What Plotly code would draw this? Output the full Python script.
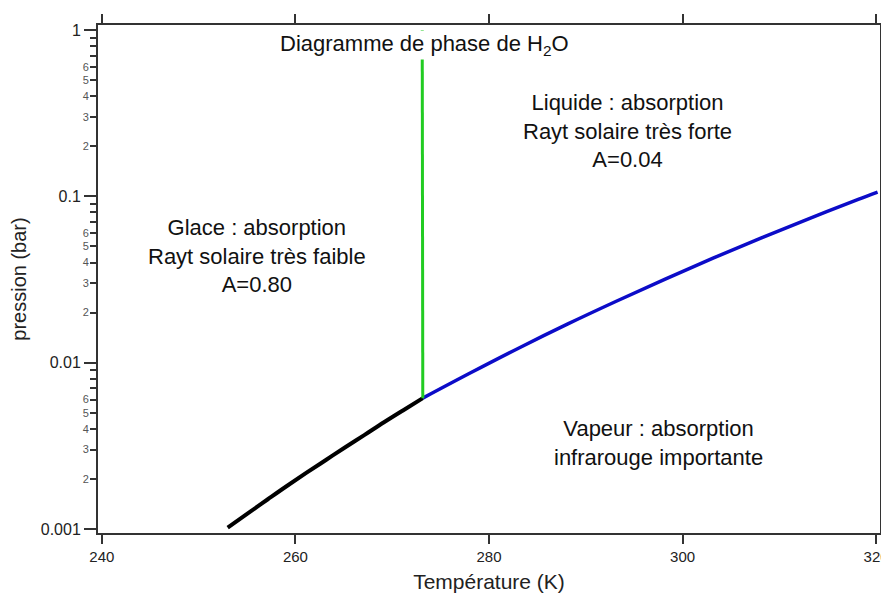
import plotly.graph_objects as go

# sublimation curve (ice / vapour)
t_ice = [253.0, 255.15, 257.15, 259.15, 261.15, 263.15, 265.15, 267.15, 269.15, 271.15, 273.16]
p_ice = [0.00102, 0.00125, 0.00151, 0.00182, 0.00218, 0.00260, 0.00310, 0.00368, 0.00438, 0.00518, 0.00612]

# vaporisation curve (liquid / vapour)
t_liq = [273.16, 278.15, 283.15, 288.15, 293.15, 298.15, 303.15, 308.15, 313.15, 318.15, 320.15]
p_liq = [0.00612, 0.00872, 0.0123, 0.0171, 0.0234, 0.0317, 0.0425, 0.0563, 0.0738, 0.0959, 0.106]

# fusion line (ice / liquid)
t_fus = [273.16, 273.1]
p_fus = [0.00612, 1.0]

x_ticks = [240, 260, 280, 300, 320]
y_major = [0.001, 0.01, 0.1, 1]
y_major_text = ["0.001", "0.01", "0.1", "1"]
y_minor_digits = [2, 3, 4, 5, 6]
y_all_minor = [2, 3, 4, 5, 6, 7, 8, 9]

minor_lab_vals = [d * dec for dec in [0.001, 0.01, 0.1] for d in y_minor_digits]
minor_lab_text = [str(d) for dec in [0.001, 0.01, 0.1] for d in y_minor_digits]
minor_tick_vals = [d * dec for dec in [0.001, 0.01, 0.1] for d in y_all_minor]

FONT = "Liberation Sans, Arial, sans-serif"
AXIS = "#333333"
TXT = 22

fig = go.Figure()

fig.add_trace(go.Scatter(x=t_ice, y=p_ice, mode="lines", line_shape="spline",
                         line={"color": "black", "width": 4}, showlegend=False))
fig.add_trace(go.Scatter(x=t_liq, y=p_liq, mode="lines", line_shape="spline",
                         line={"color": "#0c0cc8", "width": 3.5}, showlegend=False))
fig.add_trace(go.Scatter(x=t_fus, y=p_fus, mode="lines",
                         line={"color": "#22cc22", "width": 3}, showlegend=False))
# invisible trace so the secondary (minor label) axis gets drawn
fig.add_trace(go.Scatter(x=t_ice, y=p_ice, mode="lines", yaxis="y2",
                         line={"color": "rgba(0,0,0,0)", "width": 0},
                         hoverinfo="skip", showlegend=False))

# the page body has an 8px margin, so the figure is shifted by 8px
fig.update_layout(
    width=881,
    height=585,
    margin={"l": 90, "r": 9, "t": 17, "b": 60, "autoexpand": False},
    plot_bgcolor="white",
    paper_bgcolor="white",
    font={"family": FONT, "color": "#222222"},
    xaxis={
        "range": [239.6, 320.4],
        "tickvals": x_ticks,
        "ticks": "outside",
        "ticklen": 9,
        "tickwidth": 1.5,
        "tickcolor": AXIS,
        "showline": True,
        "linecolor": AXIS,
        "linewidth": 2,
        "mirror": "allticks",
        "showgrid": False,
        "zeroline": False,
        "automargin": False,
        "ticklabeloverflow": "allow",
        "tickfont": {"size": 15},
        "title": {"text": "Température (K)", "font": {"size": 21}},
    },
    yaxis={
        "type": "log",
        "range": [-3.024, 0.03],
        "tickvals": y_major,
        "ticktext": y_major_text,
        "ticks": "outside",
        "ticklen": 12,
        "tickwidth": 1.5,
        "tickcolor": AXIS,
        "showline": True,
        "linecolor": AXIS,
        "linewidth": 2,
        "mirror": "allticks",
        "showgrid": False,
        "zeroline": False,
        "automargin": False,
        "tickfont": {"size": 16},
        "minor": {"tickvals": minor_tick_vals, "ticks": "outside", "ticklen": 6,
                  "tickwidth": 1.5, "tickcolor": AXIS, "showgrid": False},
        "title": {"text": "pression (bar)", "font": {"size": 20}},
    },
    yaxis2={
        "type": "log",
        "overlaying": "y",
        "side": "left",
        "anchor": "x",
        "range": [-3.024, 0.03],
        "tickvals": minor_lab_vals,
        "ticktext": minor_lab_text,
        "ticks": "outside",
        "ticklen": 6,
        "tickwidth": 1.5,
        "tickcolor": AXIS,
        "showline": False,
        "showgrid": False,
        "zeroline": False,
        "automargin": False,
        "tickfont": {"size": 11, "color": "#555555"},
    },
)

fig.add_annotation(x=273.3, y=-0.09, xref="x", yref="y",
                   text="Diagramme de phase de H<sub>2</sub>O",
                   showarrow=False, bgcolor="white", borderpad=0,
                   font={"size": TXT, "color": "#111111"})
fig.add_annotation(x=294.3, y=-0.606, xref="x", yref="y",
                   text="Liquide : absorption<br>Rayt solaire très forte<br>A=0.04",
                   showarrow=False, font={"size": TXT, "color": "#111111"})
fig.add_annotation(x=256.0, y=-1.356, xref="x", yref="y",
                   text="Glace : absorption<br>Rayt solaire très faible<br>A=0.80",
                   showarrow=False, font={"size": TXT, "color": "#111111"})
fig.add_annotation(x=297.5, y=-2.481, xref="x", yref="y",
                   text="Vapeur : absorption<br>infrarouge importante",
                   showarrow=False, font={"size": TXT, "color": "#111111"})

fig.write_html("out.html")
